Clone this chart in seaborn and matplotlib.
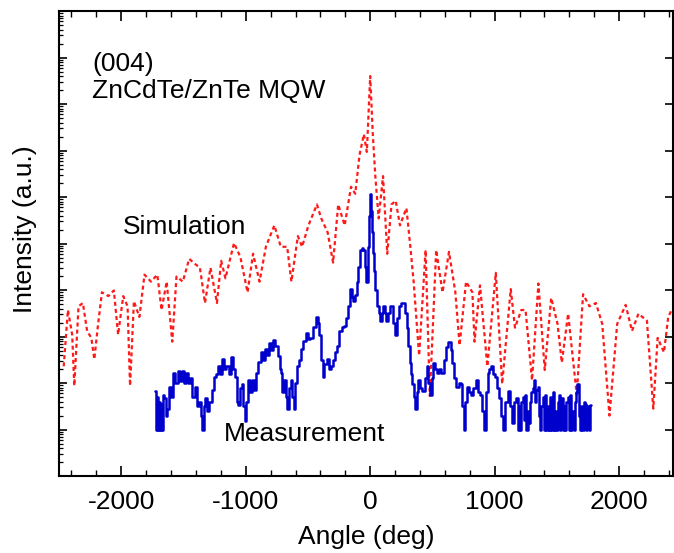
import numpy as np
import pandas as pd
import matplotlib
matplotlib.use("Agg")
import matplotlib.pyplot as plt
import seaborn as sns
from matplotlib.ticker import MultipleLocator, LogLocator, NullFormatter

# ---- data (angle in deg, log10 of intensity in a.u.) ----
sim_angle = [-2462, -2428, -2394, -2377, -2343, -2308, -2274, -2240, -2216, -2189,
             -2155, -2103, -2059, -2025, -1984, -1949, -1929, -1898, -1854, -1813,
             -1761, -1710, -1676, -1635, -1590, -1556, -1505, -1454, -1402, -1368,
             -1327, -1283, -1231, -1197, -1163, -1094, -1043, -985, -941, -889,
             -838, -770, -718, -667, -633, -581, -547, -496, -428, -393,
             -342, -298, -257, -205, -154, -120, -86, -51, -27, 0,
             21, 41, 68, 103, 137, 171, 205, 239, 291, 325,
             349, 393, 445, 479, 530, 581, 633, 684, 718, 770,
             821, 838, 882, 941, 1009, 1060, 1129, 1163, 1214, 1248,
             1300, 1351, 1402, 1454, 1505, 1539, 1590, 1659, 1710, 1761,
             1813, 1864, 1922, 1984, 2052, 2103, 2155, 2223, 2274, 2309,
             2360, 2394, 2421]
sim_log = [2.36, 3.57, 3.04, 1.94, 3.65, 3.72, 3.12, 2.97, 2.51, 3.19,
           3.95, 3.87, 3.99, 3.04, 3.87, 3.65, 1.94, 3.76, 3.42, 4.33,
           4.18, 4.33, 3.57, 4.18, 2.89, 4.29, 4.18, 4.67, 4.55, 4.48,
           3.72, 4.48, 3.72, 4.63, 4.25, 5.01, 4.71, 3.95, 4.78, 4.18,
           4.93, 5.39, 4.93, 4.93, 4.18, 5.16, 4.93, 5.39, 5.84, 5.54,
           5.24, 4.59, 5.84, 5.39, 6.22, 6.07, 6.90, 7.35, 6.97, 8.60,
           7.35, 6.45, 5.54, 6.45, 4.78, 5.84, 5.92, 5.39, 5.76, 4.86,
           4.18, 2.59, 4.86, 1.72, 4.86, 3.95, 4.82, 3.95, 2.81, 4.18,
           3.95, 2.89, 4.10, 2.36, 4.37, 1.98, 4.02, 3.19, 3.57, 3.57,
           2.06, 4.14, 2.28, 3.83, 3.27, 2.44, 3.49, 1.75, 3.91, 3.65,
           3.72, 3.27, 1.30, 3.27, 3.68, 3.12, 3.49, 3.34, 1.45, 2.97,
           2.66, 3.42, 3.57]

meas_angle = [-1727, -1718, -1710, -1702, -1693, -1685, -1677, -1669, -1660, -1648,
              -1636, -1625, -1607, -1590, -1573, -1556, -1539, -1522, -1505, -1488,
              -1471, -1453, -1436, -1419, -1402, -1385, -1368, -1355, -1344, -1330,
              -1317, -1300, -1283, -1265, -1248, -1231, -1214, -1197, -1180, -1163,
              -1146, -1129, -1112, -1095, -1077, -1065, -1053, -1040, -1026, -1014,
              -1002, -988, -975, -958, -941, -924, -906, -889, -872, -855,
              -838, -821, -804, -787, -770, -752, -735, -722, -711, -698,
              -684, -672, -660, -646, -633, -621, -609, -595, -581, -564,
              -547, -527, -506, -489, -472, -450, -428, -416, -404, -390,
              -376, -359, -342, -325, -308, -291, -274, -257, -239, -222,
              -205, -188, -171, -154, -142, -130, -117, -103, -89, -75,
              -63, -51, -39, -27, -14, -5, 0, 7, 14, 24,
              34, 48, 62, 74, 86, 98, 109, 123, 137, 154,
              171, 188, 205, 222, 239, 256, 274, 288, 301, 313,
              325, 335, 342, 354, 366, 380, 393, 410, 428, 445,
              462, 474, 486, 500, 513, 530, 547, 564, 581, 598,
              616, 630, 643, 655, 667, 684, 701, 718, 735, 747,
              759, 772, 787, 804, 821, 838, 855, 872, 889, 906,
              923, 937, 951, 963, 975, 992, 1009, 1026, 1043, 1060,
              1077, 1094, 1112, 1129, 1146, 1163,
              1180, 1190, 1200, 1210, 1220, 1230, 1240, 1250, 1260, 1270,
              1280, 1290, 1300, 1310, 1320, 1330, 1340, 1350, 1360, 1370,
              1380, 1390, 1400, 1410, 1420, 1430, 1440, 1450, 1460, 1470,
              1480, 1490, 1500, 1510, 1520, 1530, 1540, 1550, 1560, 1570,
              1580, 1590, 1600, 1610, 1620, 1630, 1640, 1650, 1660, 1670,
              1680, 1690, 1700, 1710, 1720, 1730, 1740, 1750, 1760, 1772]
meas_log = [1.83, 1.0, 1.70, 1.0, 1.60, 1.0, 1.55, 1.0, 1.75, 1.68,
            1.3, 1.45, 1.91, 1.7, 2.21, 2.0, 2.25, 2.05, 2.25, 2.0,
            2.21, 2.0, 2.10, 1.7, 1.91, 1.5, 1.60, 1.3, 1.0, 1.5,
            1.68, 1.4, 1.60, 1.85, 2.13, 2.2, 2.36, 2.2, 2.51, 2.3,
            2.36, 2.2, 2.55, 2.3, 2.13, 1.6, 1.53, 1.9, 1.98, 1.5,
            1.19, 1.6, 2.06, 1.8, 2.06, 1.85, 2.21, 2.45, 2.66, 2.5,
            2.74, 2.6, 2.85, 2.7, 2.93, 2.8, 2.59, 2.3, 2.21, 1.8,
            2.06, 1.7, 1.45, 1.9, 2.06, 1.7, 1.45, 2.0, 2.36, 2.5,
            2.74, 2.9, 3.08, 2.95, 2.97, 3.2, 3.42, 3.3, 3.04, 2.5,
            2.13, 2.4, 2.51, 2.3, 2.36, 2.5, 2.66, 2.8, 3.12, 3.2,
            3.23, 3.4, 3.65, 4.02, 3.85, 3.76, 3.9, 4.18, 4.5, 4.86,
            4.9, 4.86, 4.5, 4.18, 4.93, 5.6, 6.07, 5.7, 5.24, 4.8,
            4.40, 4.0, 3.65, 3.5, 3.34, 3.5, 3.65, 3.5, 3.34, 3.5,
            3.65, 3.3, 3.04, 3.4, 3.65, 3.72, 3.72, 3.5, 3.19, 2.8,
            2.44, 2.2, 1.98, 1.7, 1.45, 1.8, 2.06, 1.9, 1.83, 2.1,
            2.36, 2.0, 1.75, 2.1, 2.44, 2.3, 2.21, 2.3, 2.21, 2.5,
            2.78, 2.89, 2.89, 2.7, 2.44, 2.1, 1.91, 2.0, 1.98, 1.5,
            1.0, 1.6, 1.91, 1.8, 1.75, 1.9, 2.06, 1.8, 1.75, 1.4,
            1.0, 1.8, 2.21, 2.3, 2.36, 2.2, 2.13, 1.9, 1.68, 1.3,
            1.0, 1.6, 1.83, 1.5, 1.15, 1.6,
            1.68, 1.0, 1.5, 1.0, 1.6, 1.7, 1.2, 1.75, 1.0, 1.4,
            1.15, 1.6, 1.8, 1.9, 2.06, 1.6, 1.85, 1.91, 1.3, 1.0,
            1.5, 1.7, 1.0, 1.75, 1.0, 1.5, 1.0, 1.7, 1.0, 1.8,
            1.0, 1.4, 1.0, 1.6, 1.75, 1.0, 1.68, 1.0, 1.5, 1.0,
            1.6, 1.7, 1.0, 1.75, 1.0, 1.4, 1.0, 1.6, 1.8, 1.98,
            1.3, 1.0, 1.5, 1.0, 1.6, 1.55, 1.0, 1.5, 1.0, 1.53]

sim_df = pd.DataFrame({"angle": sim_angle, "intensity": 10.0 ** np.array(sim_log)})
meas_df = pd.DataFrame({"angle": meas_angle, "intensity": 10.0 ** np.array(meas_log)})

sns.set_theme(style="ticks")
plt.rcParams["font.family"] = ["Liberation Sans", "DejaVu Sans"]
plt.rcParams["axes.unicode_minus"] = False
plt.rcParams["text.color"] = "black"
plt.rcParams["axes.labelcolor"] = "black"
plt.rcParams["xtick.color"] = "black"
plt.rcParams["ytick.color"] = "black"

fig = plt.figure(figsize=(6.74, 5.53), dpi=100)
ax = fig.add_axes([0.0875, 0.1392, 0.9115, 0.8409])

sns.lineplot(data=sim_df, x="angle", y="intensity", ax=ax, color="#ff1a1a",
             linewidth=1.6, linestyle=(0, (1.8, 1.4)), sort=False, estimator=None)
sns.lineplot(data=meas_df, x="angle", y="intensity", ax=ax, color="#0000cc",
             linewidth=1.8, drawstyle="steps-mid", sort=False, estimator=None)

ax.set_yscale("log")
ax.set_xlim(-2500, 2435)
ax.set_ylim(1, 1e10)

ax.xaxis.set_major_locator(MultipleLocator(1000))
ax.xaxis.set_minor_locator(MultipleLocator(200))
ax.yaxis.set_major_locator(LogLocator(base=10, numticks=20))
ax.yaxis.set_minor_locator(LogLocator(base=10, subs=np.arange(2, 10), numticks=20))
ax.yaxis.set_major_formatter(NullFormatter())
ax.yaxis.set_minor_formatter(NullFormatter())

ax.tick_params(axis="x", which="both", direction="in", top=True, bottom=True,
               labelsize=19, pad=10, colors="black")
ax.tick_params(axis="x", which="major", length=7, width=1.2)
ax.tick_params(axis="x", which="minor", length=4, width=1.0)
ax.tick_params(axis="y", which="major", direction="in", left=True, right=True,
               length=6, width=1.2, colors="black")
ax.tick_params(axis="y", which="minor", direction="in", left=True, right=False,
               length=3, width=0.9, colors="black")

for s in ax.spines.values():
    s.set_linewidth(1.5)
    s.set_color("black")

ax.set_xlabel("Angle (deg)", fontsize=19, labelpad=8, color="black")
ax.set_ylabel("Intensity (a.u.)", fontsize=19, color="black")
ax.yaxis.set_label_coords(-0.036, 0.53)

ax.text(0.0537, 0.887, "(004)", transform=ax.transAxes, fontsize=19, va="center", ha="left")
ax.text(0.0537, 0.828, "ZnCdTe/ZnTe MQW", transform=ax.transAxes, fontsize=19,
        va="center", ha="left")
ax.text(0.104, 0.535, "Simulation", transform=ax.transAxes, fontsize=19, va="center", ha="left")
ax.text(0.269, 0.090, "Measurement", transform=ax.transAxes, fontsize=19, va="center", ha="left")

fig.savefig("out.png", dpi=100)
